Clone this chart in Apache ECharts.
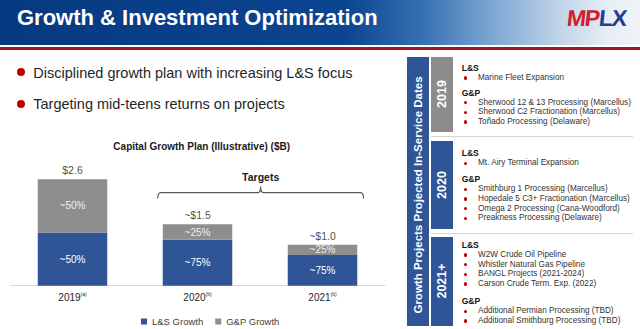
<!DOCTYPE html>
<html><head><meta charset="utf-8">
<script src="https://cdn.jsdelivr.net/npm/echarts@6/dist/echarts.min.js"></script>
<style>
html,body{margin:0;padding:0;width:640px;height:329px;overflow:hidden;background:#fff;font-family:"Liberation Sans",Arial,sans-serif;}
.abs{position:absolute;white-space:nowrap;}
#header{position:absolute;left:0;top:0;width:640px;height:45px;background:linear-gradient(to right,#063a80 0%,#0b4490 54%,#3570b0 66%,#7ea7d3 77%,#c4d6ea 88%,#e6edf5 95%,#f0f4f8 100%);}
#redline{position:absolute;left:0;top:47px;width:640px;height:3px;background:#a3161c;}
#title{left:17px;top:5.5px;font-size:22px;font-weight:bold;color:#fff;line-height:24px;}
#logo{left:567px;top:6px;font-size:23px;font-weight:bold;line-height:24px;letter-spacing:-1.2px;transform:skewX(-6deg);}
.dot{position:absolute;border-radius:50%;background:#c00000;}
.bul{font-size:14.5px;line-height:16px;color:#262626;}
.box{position:absolute;}
.vt{position:absolute;color:#fff;font-weight:bold;white-space:nowrap;transform:translate(-50%,-50%) rotate(-90deg);}
.hd{font-size:8.5px;font-weight:bold;line-height:10px;color:#111;}
.it{font-size:8.2px;line-height:10px;color:#333;}
.sep{position:absolute;height:1px;background:#d6d6d6;}
#chart{position:absolute;left:0;top:0;width:400px;height:329px;}
</style></head><body>
<div id="header"></div>
<div id="redline"></div>
<div class="abs" id="title">Growth &amp; Investment Optimization</div>
<div class="abs" id="logo"><span style="color:#d0202e">MP</span><span style="color:#1d3f8e">LX</span></div>
<div class="dot" style="left:17px;top:68.3px;width:8px;height:8px"></div>
<div class="abs bul" style="left:33.3px;top:65.3px">Disciplined growth plan with increasing L&amp;S focus</div>
<div class="dot" style="left:17px;top:99.5px;width:8px;height:8px"></div>
<div class="abs bul" style="left:33.3px;top:96.3px">Targeting mid-teens returns on projects</div>
<div id="panel"></div>
<div id="chart"></div>
<script>
// ---- chart data ----
const categories = ['2019', '2020', '2021'];
const footnotes = ['(a)', '(b)', '(b)'];
const seriesNames = ['L&S Growth', 'G&P Growth'];
const lsGrowth = [1.3, 1.125, 0.75];
const gpGrowth = [1.3, 0.375, 0.25];
const totals = [2.6, 1.5, 1.0];
const totalLabels = ['$2.6', '~$1.5', '~$1.0'];
const lsShare = ['~50%', '~75%', '~75%'];
const gpShare = ['~50%', '~25%', '~25%'];

// ---- right panel text ----
const panelYears = ['2019', '2020', '2021+'];
const panelGroups = [
  [['L&S', ['Marine Fleet Expansion']], ['G&P', ['Sherwood 12 & 13 Processing (Marcellus)', 'Sherwood C2 Fractionation (Marcellus)', 'Toñado Processing (Delaware)']]],
  [['L&S', ['Mt. Airy Terminal Expansion']], ['G&P', ['Smithburg 1 Processing (Marcellus)', 'Hopedale 5 C3+ Fractionation (Marcellus)', 'Omega 2 Processing (Cana-Woodford)', 'Preakness Processing (Delaware)']]],
  [['L&S', ['W2W Crude Oil Pipeline', 'Whistler Natural Gas Pipeline', 'BANGL Projects (2021-2024)', 'Carson Crude Term. Exp. (2022)']], ['G&P', ['Additional Permian Processing (TBD)', 'Additional Smithburg Processing (TBD)']]]
];

// panel layout
const panel = document.getElementById('panel');
function add(html, cls, style){ const d=document.createElement('div'); d.className=cls; d.style.cssText=style; d.innerHTML=html; panel.appendChild(d); return d; }
add('', 'box', 'left:406.5px;top:56.7px;width:22px;height:269px;background:#2f5597');
add('Growth Projects Projected In-Service Dates', 'vt', 'left:417.5px;top:195px;font-size:11.5px');
const boxTops = [56.7, 140.7, 236.7], boxH = [75, 88.5, 89], boxCol = ['#8c8c8c', '#2f5597', '#2f5597'];
const headY = [[68, 92.7], [153.3, 179.3], [245, 301.3]];
const stepY = 9.7;
panelYears.forEach((y, i) => {
  add('', 'box', `left:431px;top:${boxTops[i]}px;width:22px;height:${boxH[i]}px;background:${boxCol[i]}`);
  add(y, 'vt', `left:442px;top:${boxTops[i] + boxH[i] / 2}px;font-size:12.5px`);
  panelGroups[i].forEach((g, k) => {
    const hy = headY[i][k];
    add(g[0], 'abs hd', `left:461.7px;top:${hy - 5}px`);
    g[1].forEach((t, j) => {
      const cy = hy + (j + 1) * stepY + 0.3;
      add('', 'dot', `left:463.7px;top:${cy - 1.8}px;width:3.6px;height:3.6px`);
      add(t.replace('&', '&amp;'), 'abs it', `left:478px;top:${cy - 5}px`);
    });
  });
});
add('', 'sep', 'left:431px;top:136px;width:202px');
add('', 'sep', 'left:431px;top:233px;width:202px');

// ---- chart ----
const FF = '"Liberation Sans", Arial, sans-serif';
const chart = echarts.init(document.getElementById('chart'), null, { renderer: 'svg' });
chart.setOption({
  animation: false,
  textStyle: { fontFamily: FF },
  title: { text: 'Capital Growth Plan (Illustrative) ($B)', left: 196.7, top: 136, textAlign: 'center',
    textStyle: { fontFamily: FF, fontSize: 10, fontWeight: 'bold', color: '#1a1a1a' } },
  legend: { data: seriesNames, left: 136, top: 311.5, itemWidth: 6, itemHeight: 6, itemGap: 12, icon: 'rect',
    textStyle: { fontFamily: FF, fontSize: 9.5, color: '#404040' } },
  grid: { left: 10, right: 15, top: 163, bottom: 43.3 },
  xAxis: { type: 'category', data: categories,
    axisLine: { lineStyle: { color: '#d9d9d9' } }, axisTick: { show: false },
    axisLabel: { margin: 6, color: '#262626', fontSize: 10, fontFamily: FF,
      formatter: (v, i) => v + '{sup|' + footnotes[i] + '}',
      rich: { sup: { fontSize: 5, color: '#262626', fontFamily: FF, padding: [0, 0, 7, 0] } } } },
  yAxis: { type: 'value', min: 0, max: 3, show: false },
  series: [
    { name: seriesNames[0], type: 'bar', stack: 't', data: lsGrowth, barWidth: '55.6%',
      itemStyle: { color: '#2f5597' },
      label: { show: true, position: 'inside', formatter: p => lsShare[p.dataIndex], color: '#ffffff', fontSize: 10, fontFamily: FF } },
    { name: seriesNames[1], type: 'bar', stack: 't', data: gpGrowth,
      itemStyle: { color: '#8e8e8e' },
      label: { show: true, position: 'inside', formatter: p => gpShare[p.dataIndex], color: '#eeeeee', fontSize: 10, fontFamily: FF } },
    { name: 'total', type: 'scatter', data: totals, symbolSize: 1, silent: true,
      itemStyle: { color: 'rgba(0,0,0,0)' },
      label: { show: true, position: 'top', distance: 3, formatter: p => totalLabels[p.dataIndex], color: '#1a1a1a', fontSize: 10.5, fontFamily: FF } }
  ]
});
// "Targets" bracket over the 2020 and 2021 bars
const cx2 = chart.convertToPixel({ xAxisIndex: 0 }, categories[1]);
const cx3 = chart.convertToPixel({ xAxisIndex: 0 }, categories[2]);
const half = (cx3 - cx2) * 0.556 / 2;
const L = cx2 - half - 5, R = cx3 + half + 6.3, M = (L + R) / 2;
const yb = 192.7, ye = 198.5, yt = 186.5;
function quad(p0, p1, p2, n) {
  const pts = [];
  for (let k = 0; k <= n; k++) {
    const t = k / n, a = (1 - t) * (1 - t), b = 2 * (1 - t) * t, c = t * t;
    pts.push([a * p0[0] + b * p1[0] + c * p2[0], a * p0[1] + b * p1[1] + c * p2[1]]);
  }
  return pts;
}
const bracket = [].concat(
  quad([L, ye], [L, yb], [L + 3, yb], 6),
  quad([M - 3, yb], [M, yb], [M, yt], 6),
  quad([M, yt], [M, yb], [M + 3, yb], 6),
  quad([R - 3, yb], [R, yb], [R, ye], 6)
);
chart.setOption({ graphic: [
  { type: 'polyline', shape: { points: bracket }, style: { stroke: '#595959', fill: null, lineWidth: 1.2 } },
  { type: 'text', x: M, y: 176.7, style: { text: 'Targets', align: 'center', verticalAlign: 'middle', fontSize: 10.5, fontWeight: 'bold', fill: '#1a1a1a', fontFamily: FF } }
] });
</script>
</body></html>
